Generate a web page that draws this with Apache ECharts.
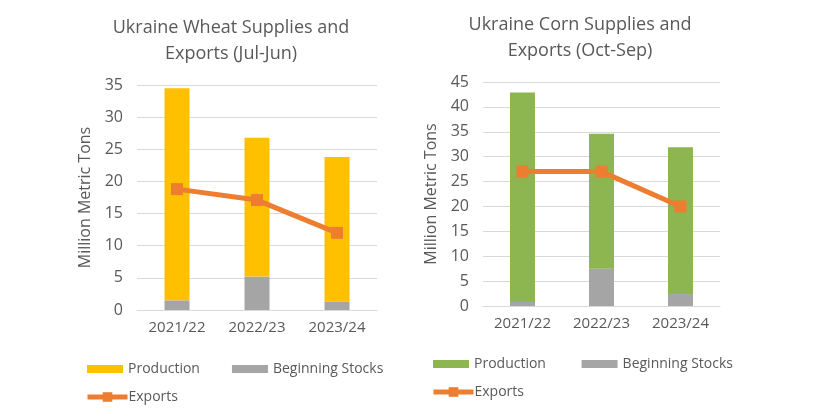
<!DOCTYPE html>
<html>
<head>
<meta charset="utf-8">
<script src="https://cdn.jsdelivr.net/npm/echarts@6/dist/echarts.min.js"></script>
<style>
  html, body { margin: 0; padding: 0; background: #fff; }
  #main { width: 820px; height: 417px; }
</style>
</head>
<body>
<div id="main"></div>
<script>
var years = ['2021/22', '2022/23', '2023/24'];

// wheat (Jul-Jun), million metric tons
var wheatStocks = [1.5, 5.2, 1.3];
var wheatProduction = [33.0, 21.6, 22.5];
var wheatExports = [18.8, 17.1, 12.0];

// corn (Oct-Sep)
var cornStocks = [0.8, 7.5, 2.4];
var cornProduction = [42.1, 27.1, 29.5];
var cornExports = [27.0, 27.0, 20.0];

var textColor = '#595959';
var gridColor = '#D9D9D9';
var font = 'Open Sans';

var myChart = echarts.init(document.getElementById('main'));

function xAx(idx) {
	return {
		type : 'category',
		gridIndex : idx,
		data : years,
		axisLine : { lineStyle : { color : gridColor } },
		axisTick : { show : false },
		axisLabel : { color : textColor, fontSize : 15, fontFamily : font, margin : 10 }
	};
}

function yAx(idx, max) {
	return {
		type : 'value',
		gridIndex : idx,
		min : 0,
		max : max,
		interval : 5,
		name : 'Million Metric Tons',
		nameLocation : 'middle',
		nameGap : 44,
		nameTextStyle : { color : textColor, fontSize : 16, fontFamily : font },
		axisLine : { show : false },
		axisTick : { show : false },
		axisLabel : { color : textColor, fontSize : 16, fontFamily : font, margin : 14 },
		splitLine : { lineStyle : { color : gridColor } }
	};
}

function barLegend(names, left, top) {
	return {
		data : names,
		left : left, top : top,
		padding : 0,
		itemWidth : 36, itemHeight : 8, itemGap : 32,
		icon : 'rect',
		textStyle : { color : textColor, fontSize : 14, fontFamily : font }
	};
}

function lineLegend(names, left, top) {
	return {
		data : names,
		left : left, top : top,
		padding : 0,
		itemWidth : 40, itemHeight : 12,
		lineStyle : { width : 5 },
		textStyle : { color : textColor, fontSize : 14, fontFamily : font, padding : [0, 0, 0, -4] }
	};
}

var option = {
	animation : false,
	title : [ {
		text : 'Ukraine Wheat Supplies and\nExports (Jul-Jun)',
		left : 226,
		top : 10,
		textAlign : 'center',
		textStyle : { color : textColor, fontSize : 18, fontWeight : 'normal', fontFamily : font, lineHeight : 26 }
	}, {
		text : 'Ukraine Corn Supplies and\nExports (Oct-Sep)',
		left : 575,
		top : 7,
		textAlign : 'center',
		textStyle : { color : textColor, fontSize : 18, fontWeight : 'normal', fontFamily : font, lineHeight : 26 }
	} ],
	legend : [
		barLegend([ 'Production', 'Beginning Stocks' ], 87, 362),
		lineLegend([ 'Exports' ], 85, 390),
		barLegend([ 'Production ', 'Beginning Stocks ' ], 433, 357),
		lineLegend([ 'Exports ' ], 431, 385)
	],
	grid : [ {
		left : 137, top : 85, width : 240, height : 225
	}, {
		left : 483, top : 82, width : 237, height : 224
	} ],
	xAxis : [ xAx(0), xAx(1) ],
	yAxis : [ yAx(0, 35), yAx(1, 45) ],
	series : [ {
		name : 'Beginning Stocks',
		type : 'bar',
		stack : 'w',
		barWidth : 25,
		data : wheatStocks,
		itemStyle : { color : '#A5A5A5' }
	}, {
		name : 'Production',
		type : 'bar',
		stack : 'w',
		barWidth : 25,
		data : wheatProduction,
		itemStyle : { color : '#FFC000' }
	}, {
		name : 'Exports',
		type : 'line',
		data : wheatExports,
		symbol : 'rect',
		symbolSize : 12,
		lineStyle : { color : '#ED7D31', width : 5 },
		itemStyle : { color : '#ED7D31' }
	}, {
		name : 'Beginning Stocks ',
		type : 'bar',
		stack : 'c',
		barWidth : 25,
		xAxisIndex : 1, yAxisIndex : 1,
		data : cornStocks,
		itemStyle : { color : '#A5A5A5' }
	}, {
		name : 'Production ',
		type : 'bar',
		stack : 'c',
		barWidth : 25,
		xAxisIndex : 1, yAxisIndex : 1,
		data : cornProduction,
		itemStyle : { color : '#8DB650' }
	}, {
		name : 'Exports ',
		type : 'line',
		xAxisIndex : 1, yAxisIndex : 1,
		data : cornExports,
		symbol : 'rect',
		symbolSize : 12,
		lineStyle : { color : '#ED7D31', width : 5 },
		itemStyle : { color : '#ED7D31' }
	} ]
};

myChart.setOption(option);
</script>
</body>
</html>
